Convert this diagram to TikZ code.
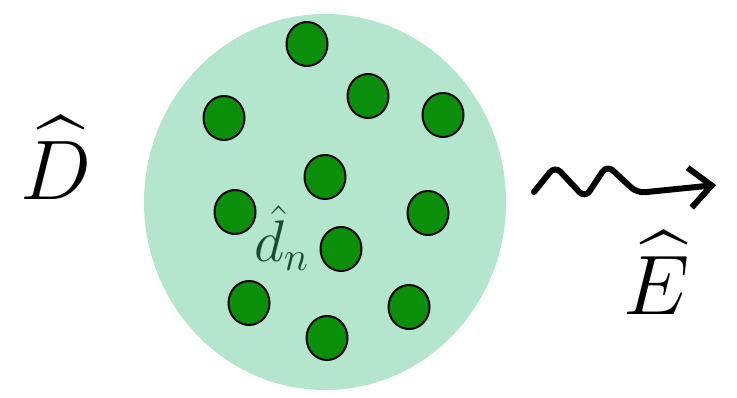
\documentclass[tikz,border=0pt]{standalone}
\usepackage{amsmath,amssymb}
\usepackage{tikz}
\usetikzlibrary{arrows.meta,positioning,shapes.geometric}
\definecolor{cloud}{RGB}{180,230,205}
\definecolor{grain}{RGB}{12,143,10}
\definecolor{labelgreen}{RGB}{25,75,45}

\begin{document}
\begin{tikzpicture}[x=0.5pt,y=-0.5pt,
    grain/.style={ellipse,draw=black,line width=1pt,fill=grain,
      minimum width=20.5pt,minimum height=22pt,inner sep=0pt},
    biglabel/.style={font=\Huge,scale=1.7,inner sep=0pt},
    wave/.style={line width=3pt,line join=round,line cap=round,rounded corners=4pt,
      -{Straight Barb[length=11pt,width=20pt,line width=3pt]}}]
  \useasboundingbox (0,0) rectangle (737,397);
  \fill[cloud] (325,202) ellipse (181 and 188);
  \node[grain] (g1)  at (307,44)  {};
  \node[grain] (g2)  at (368,96)  {};
  \node[grain] (g3)  at (224,118) {};
  \node[grain] (g4)  at (443,115) {};
  \node[grain] (g5)  at (325,177) {};
  \node[grain] (g6)  at (235,212) {};
  \node[grain] (g7)  at (428,213) {};
  \node[grain] (g8)  at (341,249) {};
  \node[grain] (g9)  at (249,303) {};
  \node[grain] (g10) at (409,307) {};
  \node[grain] (g11) at (327,338) {};
  \node[text=labelgreen,font=\LARGE,scale=1.7,inner sep=0pt] (dn) at (282,238) {$\hat{d}_n$};
  \node[biglabel] (D) at (56,158) {$\widehat{D}$};
  \node[biglabel] (E) at (657,273) {$\widehat{E}$};
  \coordinate (wstart) at (534,192);
  \coordinate (wend) at (716,185);
  \draw[wave] (wstart) -- (555,166) -- (585,198) -- (607,165) -- (637,193) -- (wend);
\end{tikzpicture}
\end{document}
